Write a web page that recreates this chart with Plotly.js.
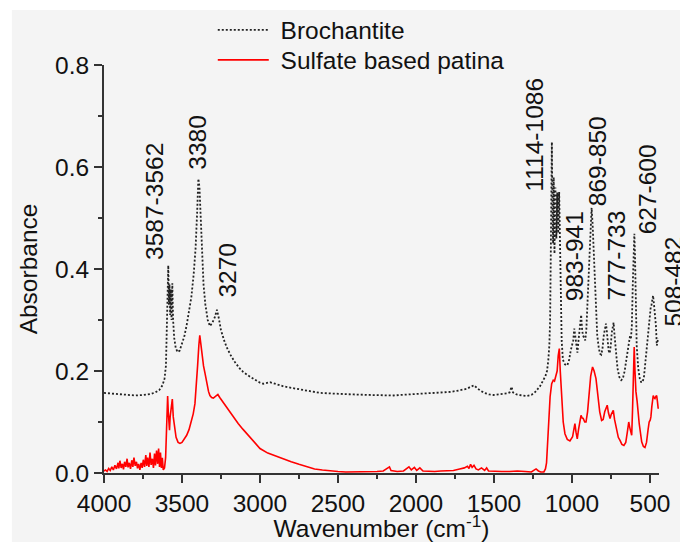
<!DOCTYPE html>
<html>
<head>
<meta charset="utf-8">
<script src="https://cdn.plot.ly/plotly-3.0.1.min.js"></script>
<style>html,body{margin:0;padding:0;background:#fff;}#chart{width:680px;height:542px;}</style>
</head>
<body>
<div id="chart"></div>
<script>
// Brochantite spectrum (dotted black)
const brochX = [4000,3950,3900,3850,3800,3750,3700,3670,3645,3625,3612,3603,3597,3592,3588,3584,3580,3576,3572,3567,3562,3557,3550,3540,3528,3515,3500,3485,3470,3455,3440,3425,3413,3403,3395,3388,3380,3372,3362,3350,3335,3321,3305,3290,3276,3265,3250,3230,3214,3190,3160,3130,3107,3070,3030,3000,2979,2955,2936,2915,2880,2850,2800,2744,2680,2615,2550,2500,2400,2300,2200,2146,2050,1950,1850,1780,1739,1700,1675,1650,1628,1610,1590,1560,1530,1504,1460,1419,1400,1387,1378,1355,1320,1290,1260,1235,1205,1185,1170,1160,1152,1145,1140,1136,1132,1129,1125,1121,1117,1112,1106,1100,1094,1088,1082,1077,1072,1066,1058,1045,1030,1018,1008,1000,992,985,979,972,965,958,952,946,941,936,930,922,915,908,900,893,886,879,874,868,862,855,848,838,828,820,812,804,796,789,782,777,771,765,758,751,745,739,733,727,718,708,696,684,674,662,650,640,632,627,622,616,610,604,600,596,591,585,575,565,556,547,538,528,518,511,506,500,495,490,485,480,474,468,462,456,450,447];
const brochY = [0.157,0.156,0.155,0.153,0.152,0.153,0.155,0.158,0.163,0.172,0.185,0.21,0.27,0.34,0.407,0.33,0.37,0.31,0.36,0.30,0.372,0.30,0.265,0.245,0.237,0.24,0.252,0.268,0.29,0.315,0.345,0.39,0.44,0.51,0.577,0.56,0.50,0.43,0.37,0.33,0.30,0.288,0.295,0.305,0.32,0.305,0.28,0.26,0.247,0.232,0.217,0.205,0.198,0.19,0.182,0.177,0.175,0.176,0.178,0.176,0.172,0.17,0.167,0.164,0.16,0.157,0.156,0.155,0.154,0.153,0.153,0.152,0.154,0.156,0.157,0.159,0.161,0.163,0.165,0.169,0.172,0.167,0.162,0.157,0.154,0.153,0.154,0.156,0.158,0.169,0.158,0.154,0.152,0.151,0.153,0.159,0.17,0.18,0.19,0.2,0.22,0.25,0.30,0.42,0.58,0.649,0.52,0.45,0.58,0.43,0.56,0.46,0.55,0.47,0.551,0.44,0.34,0.26,0.222,0.213,0.211,0.222,0.24,0.254,0.26,0.283,0.265,0.245,0.236,0.26,0.28,0.30,0.31,0.285,0.27,0.265,0.26,0.28,0.34,0.40,0.46,0.50,0.52,0.49,0.44,0.38,0.32,0.27,0.245,0.234,0.232,0.245,0.27,0.285,0.293,0.28,0.255,0.24,0.235,0.25,0.275,0.29,0.295,0.27,0.235,0.205,0.188,0.182,0.185,0.2,0.225,0.244,0.255,0.27,0.262,0.29,0.37,0.44,0.469,0.43,0.33,0.25,0.205,0.185,0.178,0.178,0.19,0.22,0.26,0.28,0.30,0.31,0.325,0.33,0.345,0.348,0.33,0.31,0.29,0.25,0.262,0.265];

// Sulfate based patina spectrum (solid red)
const patinaX = [4000,3990,3980,3970,3960,3950,3940,3930,3920,3910,3905,3898,3890,3882,3875,3868,3860,3852,3846,3838,3830,3822,3815,3808,3800,3792,3785,3778,3770,3762,3755,3748,3740,3732,3726,3720,3712,3705,3698,3690,3683,3676,3670,3663,3656,3650,3644,3638,3632,3626,3620,3612,3605,3600,3596,3592,3588,3584,3580,3576,3570,3566,3562,3556,3548,3538,3525,3513,3500,3485,3470,3455,3440,3428,3417,3408,3400,3392,3386,3380,3372,3362,3352,3340,3330,3321,3310,3299,3285,3270,3258,3240,3224,3200,3171,3140,3110,3085,3050,3020,3000,2950,2900,2850,2800,2750,2701,2650,2600,2551,2500,2450,2400,2350,2300,2250,2210,2180,2170,2160,2120,2080,2060,2045,2030,2010,1995,1975,1955,1920,1880,1840,1800,1760,1720,1690,1670,1660,1650,1640,1628,1615,1600,1580,1560,1547,1535,1500,1450,1400,1350,1300,1260,1240,1230,1215,1200,1180,1170,1163,1155,1148,1140,1130,1120,1112,1103,1095,1088,1081,1075,1066,1056,1045,1030,1013,1005,996,988,981,974,966,958,950,942,935,928,918,910,900,890,880,868,858,846,835,822,810,800,790,781,774,766,756,748,741,735,727,715,703,692,680,667,655,645,636,630,622,617,612,607,601,596,590,582,569,553,542,532,522,512,505,498,494,488,483,479,474,468,462,457,452,447];
const patinaY = [0.004,0.006,0.003,0.009,0.005,0.012,0.006,0.015,0.008,0.02,0.009,0.024,0.01,0.018,0.007,0.022,0.012,0.028,0.011,0.02,0.008,0.025,0.012,0.03,0.014,0.022,0.009,0.018,0.006,0.02,0.01,0.026,0.012,0.035,0.014,0.03,0.012,0.04,0.016,0.028,0.01,0.038,0.015,0.044,0.018,0.048,0.012,0.04,0.01,0.03,0.006,0.01,0.03,0.09,0.13,0.151,0.12,0.09,0.084,0.11,0.13,0.14,0.145,0.11,0.09,0.07,0.06,0.058,0.06,0.066,0.074,0.085,0.1,0.116,0.136,0.17,0.21,0.25,0.27,0.255,0.23,0.21,0.195,0.175,0.16,0.152,0.148,0.147,0.151,0.154,0.148,0.14,0.133,0.123,0.11,0.097,0.086,0.077,0.066,0.055,0.048,0.039,0.033,0.028,0.022,0.017,0.012,0.008,0.006,0.004,0.003,0.002,0.002,0.003,0.002,0.003,0.004,0.009,0.012,0.005,0.003,0.004,0.008,0.012,0.006,0.011,0.005,0.01,0.004,0.003,0.003,0.004,0.004,0.005,0.008,0.01,0.013,0.009,0.017,0.011,0.015,0.008,0.006,0.01,0.005,0.01,0.004,0.003,0.003,0.003,0.004,0.003,0.002,0.006,0.008,0.004,0.002,0.002,0.008,0.02,0.06,0.11,0.15,0.175,0.182,0.18,0.19,0.2,0.23,0.244,0.2,0.143,0.1,0.077,0.066,0.063,0.066,0.071,0.085,0.097,0.08,0.067,0.085,0.105,0.113,0.108,0.107,0.1,0.1,0.12,0.155,0.19,0.208,0.2,0.185,0.155,0.12,0.103,0.105,0.12,0.13,0.133,0.118,0.107,0.115,0.12,0.123,0.105,0.085,0.07,0.064,0.056,0.054,0.06,0.08,0.1,0.09,0.08,0.074,0.12,0.2,0.247,0.2,0.16,0.14,0.097,0.061,0.052,0.05,0.06,0.085,0.1,0.104,0.11,0.13,0.148,0.152,0.148,0.146,0.15,0.152,0.14,0.126];

// Peak labels
const peakLabels = ["3587-3562","3380","3270","1114-1086","983-941","869-850","777-733","627-600","508-482"];
const peakLabelX = [3673,3397,3205,1237,987,840,712,519,449];
const peakLabelY = [0.413,0.59,0.339,0.548,0.333,0.519,0.334,0.464,0.284];

const seriesNames = ["Brochantite","Sulfate based patina"];
const xTickVals = [4000,3500,3000,2500,2000,1500,1000,500];
const yTickVals = [0.0,0.2,0.4,0.6,0.8];

const FONT = "Liberation Sans, Arial, Helvetica, sans-serif";
const FS = 24.5;

const traces = [
  {x: brochX, y: brochY, name: "\u00a0" + seriesNames[0], type: "scatter", mode: "lines",
   legend: "legend",
   line: {color: "#222222", width: 1.8, dash: "2px,2px"}},
  {x: patinaX, y: patinaY, name: "\u00a0" + seriesNames[1], type: "scatter", mode: "lines",
   legend: "legend2",
   line: {color: "#ff0000", width: 1.6}}
];

const annotations = peakLabels.map((t, i) => ({
  x: peakLabelX[i], y: peakLabelY[i], xref: "x", yref: "y",
  text: t, showarrow: false, textangle: -90,
  xanchor: i === peakLabels.length - 1 ? "left" : "center", yanchor: "bottom",
  font: {family: FONT, size: FS, color: "#111"}
}));

const legendBase = {xanchor: "left", yanchor: "middle", bgcolor: "rgba(0,0,0,0)",
  borderwidth: 0, itemwidth: 51, font: {family: FONT, size: FS, color: "#111"}};

const layout = {
  width: 680, height: 542,
  margin: {l: 104, r: 21, t: 65, b: 69, pad: 0, autoexpand: false},
  paper_bgcolor: "#ffffff",
  plot_bgcolor: "rgba(0,0,0,0)",
  font: {family: FONT, size: FS, color: "#111"},
  showlegend: true,
  legend: Object.assign({}, legendBase, {x: 0.196, y: 1.0858}),
  legend2: Object.assign({}, legendBase, {x: 0.196, y: 1.0123}),
  xaxis: {
    range: [4000, 442], autorange: false, automargin: false,
    tickvals: xTickVals, ticks: "outside", ticklen: 8, tickwidth: 2, tickcolor: "#333",
    minor: {dtick: 250, tick0: 0, ticks: "outside", ticklen: 4, tickwidth: 2, tickcolor: "#333"},
    showline: true, linecolor: "#333", linewidth: 2, mirror: false,
    showgrid: false, zeroline: false,
    tickfont: {family: FONT, size: FS, color: "#111"},
    title: {text: "Wavenumber (cm<sup>-1</sup>)", font: {family: FONT, size: FS, color: "#111"}, standoff: 4}
  },
  yaxis: {
    range: [0, 0.8], autorange: false, automargin: false,
    tickvals: yTickVals, tickformat: ".1f", ticks: "outside", ticklen: 8, tickwidth: 2, tickcolor: "#333",
    minor: {dtick: 0.1, tick0: 0, ticks: "outside", ticklen: 4, tickwidth: 2, tickcolor: "#333"},
    showline: true, linecolor: "#333", linewidth: 2, mirror: false,
    showgrid: false, zeroline: false,
    tickfont: {family: FONT, size: FS, color: "#111"},
    title: {text: "Absorbance", font: {family: FONT, size: FS, color: "#111"}, standoff: 10}
  },
  shapes: [{type: "rect", xref: "paper", yref: "paper", layer: "below",
            x0: -0.166, x1: 1.04, y0: -0.17, y1: 1.135,
            fillcolor: "#f4f4f4", line: {width: 0}}],
  annotations: annotations
};

Plotly.newPlot("chart", traces, layout, {staticPlot: true, displayModeBar: false});
</script>
</body>
</html>
